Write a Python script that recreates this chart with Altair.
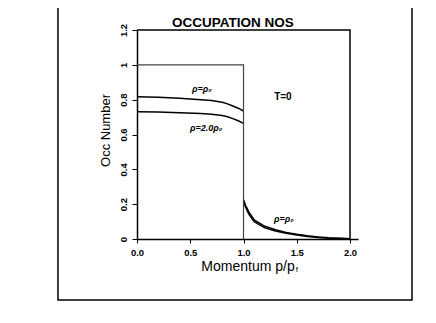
import altair as alt
import pandas as pd

# curve data
p_low = [0.0, 0.2, 0.4, 0.6, 0.7, 0.8, 0.85, 0.9, 0.95, 1.0]
n_rho0_low = [0.817, 0.814, 0.808, 0.800, 0.795, 0.785, 0.776, 0.764, 0.751, 0.735]
n_rho2_low = [0.731, 0.729, 0.725, 0.720, 0.716, 0.709, 0.702, 0.691, 0.679, 0.664]

p_high = [1.0, 1.02, 1.05, 1.1, 1.2, 1.3, 1.4, 1.5, 1.6, 1.7, 1.8, 1.9, 2.0]
n_rho0_high = [0.226, 0.192, 0.156, 0.110, 0.073, 0.053, 0.038, 0.027, 0.018, 0.012, 0.007, 0.004, 0.002]
n_rho2_high = [0.220, 0.182, 0.143, 0.099, 0.064, 0.046, 0.033, 0.023, 0.015, 0.009, 0.005, 0.003, 0.001]

# free Fermi gas step at T=0
step_p = [0.0, 1.0, 1.0]
step_n = [1.0, 1.0, 0.0]

# frame of the plot box
box_p = [0.0, 2.0, 2.0]
box_n = [1.2, 1.2, 0.0]

y_ticks = [0, 0.2, 0.4, 0.6, 0.8, 1.0, 1.2]
x_ticks = [0.0, 0.5, 1.0, 1.5, 2.0]

ann_text = ["ρ=ρ₀", "ρ=2.0ρ₀", "ρ=ρ₀"]
ann_p = [0.61, 0.65, 1.38]
ann_n = [0.86, 0.636, 0.112]

FONT = "Liberation Sans"
X_MAX = 2.075
Y_MAX = 1.2

rows = []
for name, xs, ys in [
    ("r0_low", p_low, n_rho0_low),
    ("r2_low", p_low, n_rho2_low),
    ("r0_high", p_high, n_rho0_high),
    ("r2_high", p_high, n_rho2_high),
]:
    for i, (a, b) in enumerate(zip(xs, ys)):
        rows.append({"series": name, "p": a, "n": b, "o": i})
curves = pd.DataFrame(rows)

xscale = alt.Scale(domain=[0, X_MAX], range=[0, 221], nice=False, zero=False)
yscale = alt.Scale(domain=[0, Y_MAX], nice=False)

xaxis = alt.Axis(
    values=x_ticks, format=".1f", title="Momentum p/p", titleFont=FONT,
    titleFontSize=14, titleFontWeight="normal", titleColor="black", titlePadding=3,
    labelFont=FONT, labelFontSize=9.5, labelFontWeight="bold", labelColor="black",
    labelOverlap=False, labelFlush=False,
    domainColor="black", domainWidth=1.5, tickColor="black", tickSize=4,
    grid=False, labelPadding=4,
)
yaxis = alt.Axis(
    values=y_ticks, title="Occ Number", titleFont=FONT, titleFontSize=13,
    titleFontWeight="normal", titleColor="black", titlePadding=6, titleY=100,
    labelFont=FONT, labelFontSize=9.5, labelFontWeight="bold", labelColor="black",
    labelAngle=-90, labelAlign="center", labelBaseline="bottom", labelPadding=4,
    labelOverlap=False, labelFlush=False, labelBound=False,
    labelExpr="datum.value == 0 ? '0' : datum.value == 1 ? '1' : format(datum.value, '.1f')",
    domainColor="black", domainWidth=1.5, tickColor="black", tickSize=5, grid=False,
)


def X(field="p"):
    return alt.X(f"{field}:Q", scale=xscale, axis=xaxis)


def Y(field="n"):
    return alt.Y(f"{field}:Q", scale=yscale, axis=yaxis)


curve_layer = alt.Chart(curves).mark_line(color="black", strokeWidth=1.5).encode(
    x=X(), y=Y(), detail="series:N", order="o:Q",
)

step_df = pd.DataFrame({"p": step_p, "n": step_n, "o": range(3)})
step_layer = alt.Chart(step_df).mark_line(color="#444444", strokeWidth=1.2).encode(
    x=X(), y=Y(), order="o:Q"
)

box_df = pd.DataFrame({"p": box_p, "n": box_n, "o": range(3)})
box_layer = alt.Chart(box_df).mark_line(color="black", strokeWidth=1.5).encode(
    x=X(), y=Y(), order="o:Q"
)

ann_df = pd.DataFrame({"t": ann_text, "p": ann_p, "n": ann_n})
ann_it = alt.Chart(ann_df).mark_text(
    font=FONT, fontSize=9, fontStyle="italic", fontWeight="bold", color="black"
).encode(x=X(), y=Y(), text="t:N")

t0_df = pd.DataFrame({"t": ["T=0"], "p": [1.37], "n": [0.815]})
t0_layer = alt.Chart(t0_df).mark_text(
    font=FONT, fontSize=10, fontWeight="bold", color="black"
).encode(x=X(), y=Y(), text="t:N")

# chart title
title_df = pd.DataFrame({"t": ["OCCUPATION NOS"], "p": [0.90], "n": [1.2155]})
title_layer = alt.Chart(title_df).mark_text(
    font=FONT, fontSize=13.5, fontWeight="bold", color="black", baseline="alphabetic"
).encode(x=X(), y=Y(), text="t:N")

# subscript f of the x-axis title
sub_df = pd.DataFrame({"t": ["f"], "p": [1.49], "n": [-0.19]})
sub_layer = alt.Chart(sub_df).mark_text(
    font=FONT, fontSize=8, color="black", align="left", baseline="alphabetic"
).encode(x=X(), y=Y(), text="t:N")

# outer figure frame
frame_df = pd.DataFrame({"p": [-0.742], "p2": [2.582], "n": [-0.35], "n2": [1.45]})
frame_layer = alt.Chart(frame_df).mark_rect(
    fill=None, fillOpacity=0, stroke="black", strokeWidth=1.5
).encode(x=X(), x2="p2:Q", y=Y(), y2="n2:Q")

chart = alt.layer(
    curve_layer, frame_layer, step_layer, box_layer, ann_it, t0_layer,
    title_layer, sub_layer,
).properties(
    width=290, height=209,
    background="white",
    autosize=alt.AutoSizeParams(type="none"),
    padding={"left": 129, "top": 22, "right": 0, "bottom": 84},
).configure_view(stroke=None).configure_axis(grid=False).configure_axisY(
    labelOverlap=False
)

chart.save("out.html", embed_options={"renderer": "svg", "actions": False})
